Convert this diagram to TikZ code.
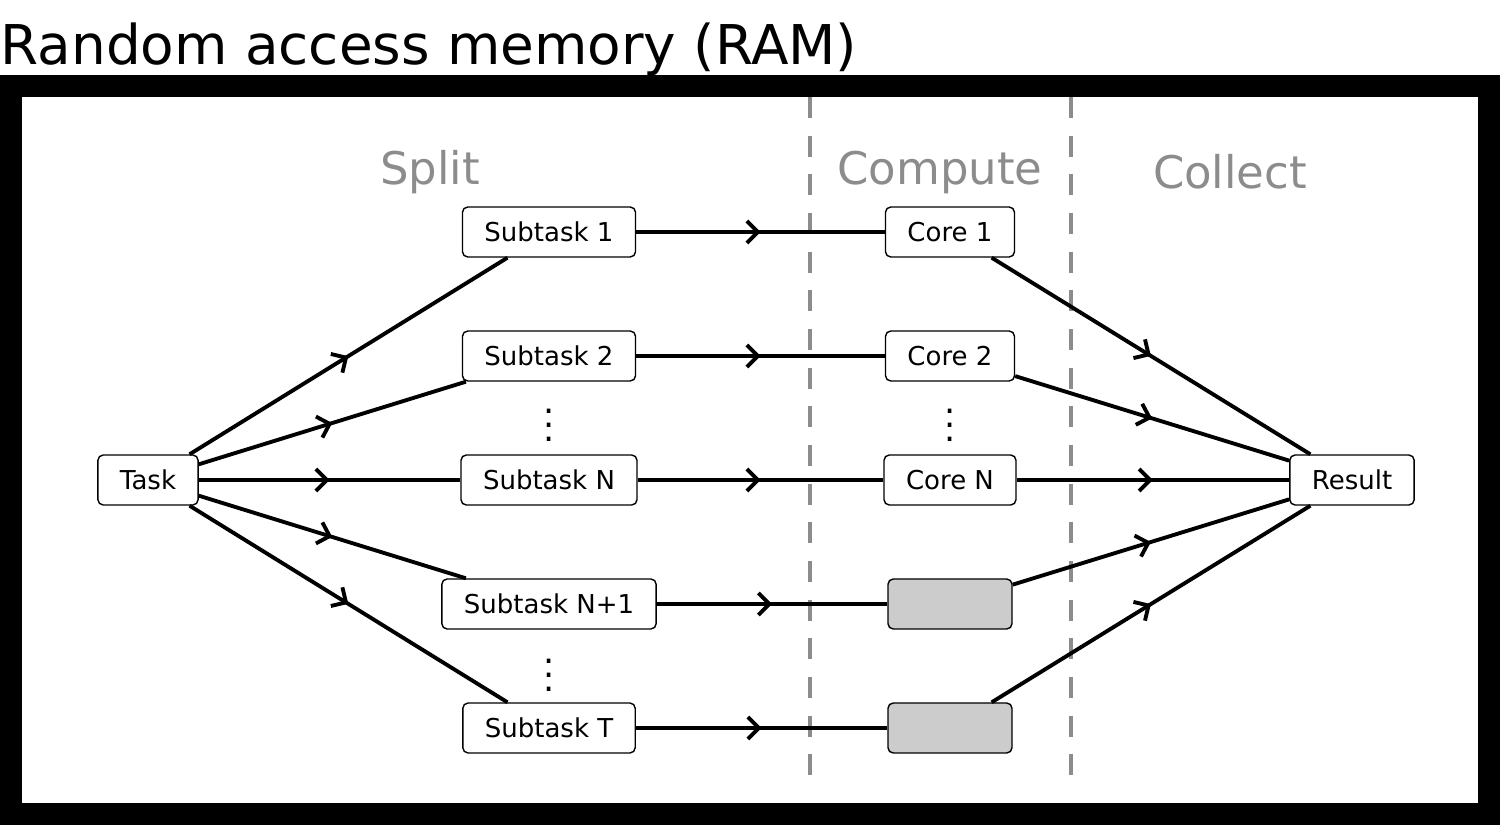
\documentclass[tikz,border=0pt]{standalone}
\usepackage{fontspec}
\setmainfont{DejaVu Sans}
\usetikzlibrary{decorations.markings,arrows.meta}

\tikzset{
  box/.style={draw, thin, rounded corners=1.5pt, fill=white, font=\fontsize{7.4}{9}\selectfont,
    minimum height=0.5cm, inner xsep=0.22cm},
  idle/.style={box, fill=black!20, minimum width=1.24cm},
  flow/.style={line width=1.1pt, postaction={decorate},
    decoration={markings, mark=at position 0.5 with {\arrow{Straight Barb[length=1.1mm,width=2.2mm,line width=1.1pt]}}}},
  phase/.style={text=black!45, font=\fontsize{12.8}{15}\selectfont}
}

\begin{document}
\begin{tikzpicture}
    \useasboundingbox (0,0) rectangle (15,8.25);
    % frame
    \draw [line width=0.22cm] (0.11,0.11) rectangle (14.89,7.39);
    \node [anchor=base west, inner sep=0, font=\fontsize{15.6}{18}\selectfont] (title) at (0,7.6) {Random access memory (RAM)};
    % separators
    \draw [black!45, line width=0.9pt, dash pattern=on 6pt off 5pt] (8.10,7.28) -- (8.10,0.35);
    \draw [black!45, line width=0.9pt, dash pattern=on 6pt off 5pt] (10.71,7.28) -- (10.71,0.35);
    % phases
    \node [phase] (split) at (4.30,6.53) {Split};
    \node [phase] (compute) at (9.40,6.53) {Compute};
    \node [phase] (collect) at (12.30,6.53) {Collect};

    % nodes
    \node [box] (task) at (1.48,3.45) {Task};
    \node [box] (sub1) at (5.49,5.93) {Subtask 1};
    \node [box] (sub2) at (5.49,4.69) {Subtask 2};
    \node [box] (subN) at (5.49,3.45) {Subtask N};
    \node [box] (subN1) at (5.49,2.21) {Subtask N+1};
    \node [box] (subT) at (5.49,0.97) {Subtask T};
    \node [box] (core1) at (9.50,5.93) {Core 1};
    \node [box] (core2) at (9.50,4.69) {Core 2};
    \node [box] (coreN) at (9.50,3.45) {Core N};
    \node [idle] (idle1) at (9.50,2.21) {};
    \node [idle] (idle2) at (9.50,0.97) {};
    \node [box] (result) at (13.52,3.45) {Result};
    % dots
    \node [inner sep=0] (dots1) at (5.49,4.10) {$\vdots$};
    \node [inner sep=0] (dots2) at (9.50,4.10) {$\vdots$};
    \node [inner sep=0] (dots3) at (5.49,1.60) {$\vdots$};

    % split
    \foreach \s in {sub1,sub2,subN,subN1,subT}
        \draw [flow] (task) -- (\s);
    % compute
    \draw [flow] (sub1) -- (core1);
    \draw [flow] (sub2) -- (core2);
    \draw [flow] (subN) -- (coreN);
    \draw [flow] (subN1) -- (idle1);
    \draw [flow] (subT) -- (idle2);
    % collect
    \foreach \c in {core1,core2,coreN,idle1,idle2}
        \draw [flow] (\c) -- (result);
\end{tikzpicture}
\end{document}
